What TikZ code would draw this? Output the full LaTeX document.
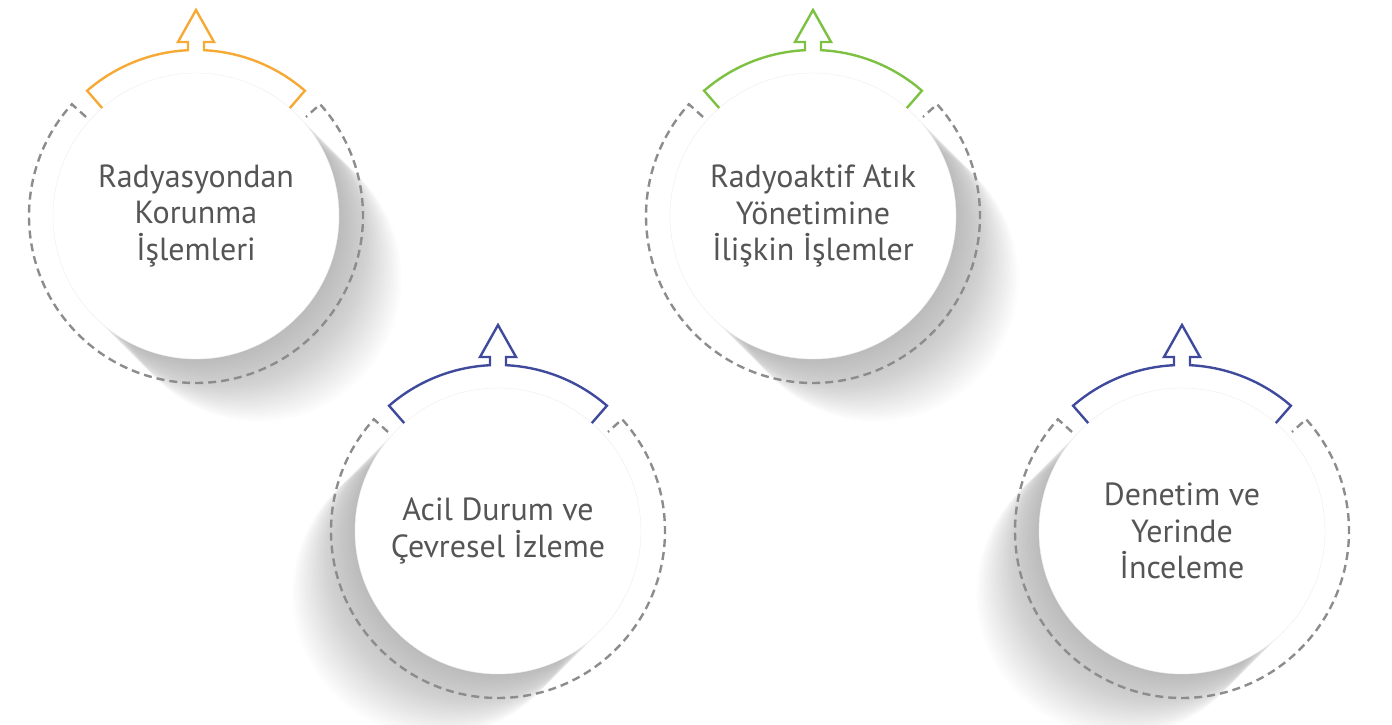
\documentclass[tikz,border=0pt]{standalone}
\usepackage{fontspec}
\setmainfont{PT Sans}
\usepackage{tikz}
\usetikzlibrary{backgrounds}
\definecolor{orangeline}{HTML}{F6A935}
\definecolor{greenline}{HTML}{7DC142}
\definecolor{blueline}{HTML}{3F4A9C}
\definecolor{ringgray}{HTML}{8C8C8C}
\definecolor{textgray}{HTML}{555555}
\tikzset{topic/.style = {circle, minimum size=286pt, inner sep=0pt, fill=white, draw=black!7, thin,
                         text=textgray, align=center, font=\fontsize{32}{36.5}\selectfont}}
\tikzset{ring/.style = {draw=ringgray, line width=2.4pt, dash pattern=on 8pt off 5pt}}
\tikzset{bracket/.style = {line width=2.4pt, line join=miter}}

\begin{document}
\begin{tikzpicture}[x=1pt, y=1pt]
    \useasboundingbox (0,0) rectangle (1392,725);

    % the four topics
    \node [topic] (koruma)  at (196,509)  {Radyasyondan\\Korunma\\İşlemleri};
    \node [topic] (acil)    at (498,194)  {Acil Durum ve\\Çevresel İzleme};
    \node [topic] (atik)    at (813,509)  {Radyoaktif Atık\\Yönetimine\\İlişkin İşlemler};
    \node [topic] (denetim) at (1182,194) {Denetim ve\\Yerinde\\İnceleme};

    % soft shadows, lower right or lower left
    \begin{scope}[on background layer]
        \foreach \n/\s in {koruma/1, acil/-1, atik/1, denetim/-1}
            \foreach \k in {1,...,26}
                \fill [black, opacity=0.013] ([shift={(\s*\k*2.4,-\k*2.4)}]\n.center) circle (143pt);
    \end{scope}

    % dashed rings
    \foreach \n in {koruma, acil, atik, denetim}
        \draw [ring, shift={(\n.center)}] (138:148) -- (138:167)
            arc [start angle=138, end angle=402, radius=167pt] -- (42:148);

    % brackets with arrow on top
    \foreach \n/\c in {koruma/orangeline, acil/blueline, atik/greenline, denetim/blueline}
        \draw [bracket, draw=\c, shift={(\n.center)}] (131:143) -- (131:166)
            arc [start angle=131, end angle=92.76, radius=166pt]
            -- (-8,174) -- (-18,174) -- (0,206) -- (18,174) -- (8,174) -- (87.24:166)
            arc [start angle=87.24, end angle=49, radius=166pt] -- (49:143);
\end{tikzpicture}
\end{document}
